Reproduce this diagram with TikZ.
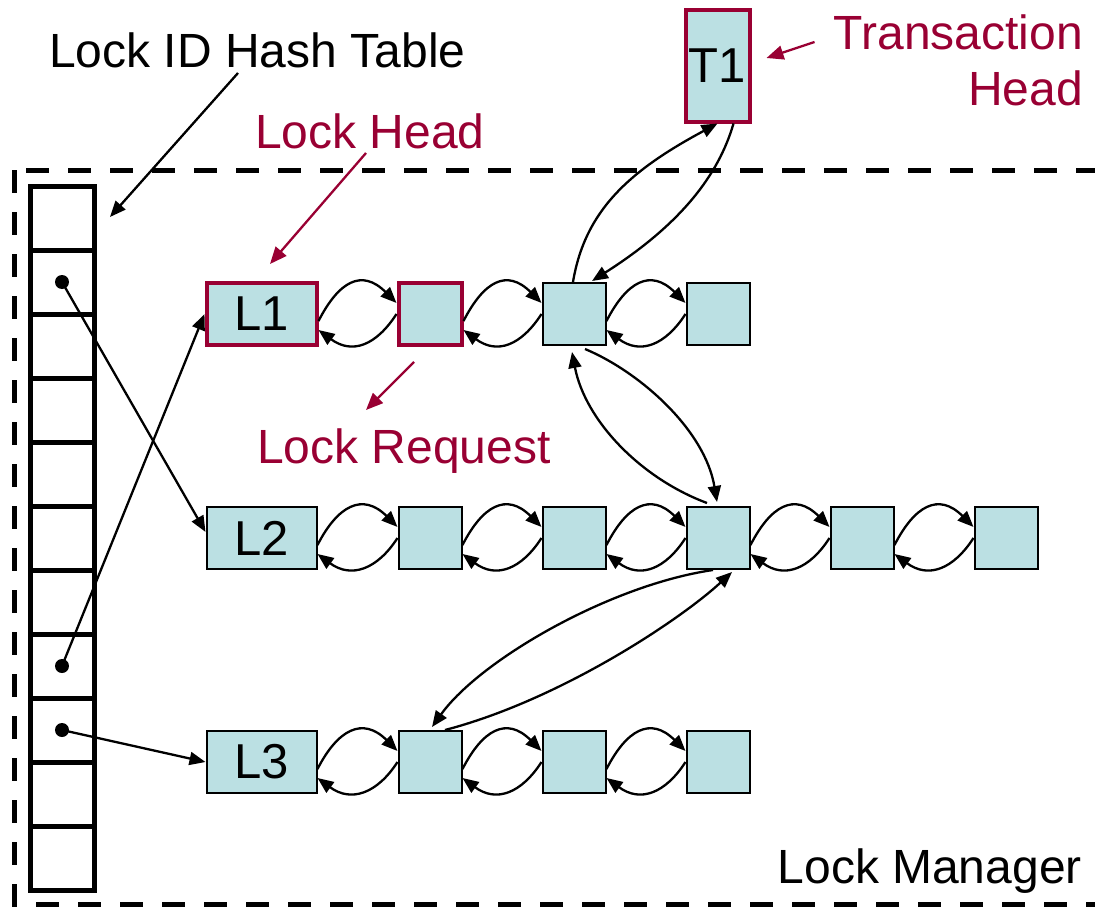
\documentclass[tikz,border=0pt]{standalone}
\usepackage{fontspec}
\setmainfont{Liberation Sans}
\usetikzlibrary{arrows.meta,calc}
\definecolor{cellfill}{RGB}{187,224,227}
\definecolor{maroon}{RGB}{153,0,51}
\tikzset{
  lockbox/.style={draw=black, line width=2pt, fill=cellfill, minimum width=110pt,
    minimum height=62pt, inner sep=0pt, font=\fontsize{49}{58}\selectfont},
  reqbox/.style={draw=black, line width=2pt, fill=cellfill, minimum width=63pt,
    minimum height=62pt, inner sep=0pt},
  hilite/.style={draw=maroon, line width=4pt},
  cell/.style={draw=black, line width=5pt, minimum width=64pt, minimum height=64pt,
    inner sep=0pt, outer sep=0pt},
  txt/.style={font=\fontsize{48}{55}\selectfont, inner sep=0pt},
  link/.style={line width=2.3pt, -{Triangle[length=16pt,width=13pt]}},
  note/.style={line width=2.3pt, draw=maroon, -{Triangle[length=17pt,width=14pt]}},
  mgrframe/.style={line width=5pt, dash pattern=on 23pt off 19pt},
}
% forward and backward pointers between two neighbouring queue entries
\newcommand\chainpair[2]{%
  \draw[link] ($(#1.east)+(0,7)$) .. controls +(20,-39) and +(-35,-35) .. ($(#2.west)+(0,-11)$);
  \draw[link] (#2.west) .. controls +(-20,31) and +(34,25) .. ($(#1.east)+(0,16)$);
}
\begin{document}
\begin{tikzpicture}[x=1pt,y=-1pt]
\useasboundingbox (0,0) rectangle (1095,907);

% lock manager boundary
\draw[mgrframe] (14,170) -- (14,904) -- (1110,904);
\draw[mgrframe] (26,170) -- (1110,170);

% hash table
\foreach \i in {1,...,11}
  \node[cell] (h\i) at (62,{218+64*(\i-1)}) {};
\fill (h2.center) circle (7pt);
\fill (h8.center) circle (7pt);
\fill (h9.center) circle (7pt);

% transaction
\node[lockbox,hilite,minimum width=64pt,minimum height=111pt] (T1) at (717.5,66) {T1};

% lock L1 queue
\node[lockbox,hilite] (L1) at (261.5,314) {L1};
\node[reqbox,hilite] (a1) at (430,314) {};
\node[reqbox] (a2) at (574,314) {};
\node[reqbox] (a3) at (718,314) {};

% lock L2 queue
\node[lockbox] (L2) at (261.5,538) {L2};
\node[reqbox] (b1) at (430,538) {};
\node[reqbox] (b2) at (574,538) {};
\node[reqbox] (b3) at (718,538) {};
\node[reqbox] (b4) at (862,538) {};
\node[reqbox] (b5) at (1006,538) {};

% lock L3 queue
\node[lockbox] (L3) at (261.5,762) {L3};
\node[reqbox] (c1) at (430,762) {};
\node[reqbox] (c2) at (574,762) {};
\node[reqbox] (c3) at (718,762) {};

% labels
\node[txt,anchor=base west] (hashlbl) at (49,68) {Lock ID Hash Table};
\node[txt,anchor=base west,text=maroon] (headlbl) at (255,148) {Lock Head};
\node[txt,anchor=base west,text=maroon] (reqlbl) at (257,463) {Lock Request};
\node[txt,anchor=base east,text=maroon] (trans1) at (1083,50) {Transaction};
\node[txt,anchor=base east,text=maroon] (trans2) at (1083,105) {Head};
\node[txt,anchor=base east] (mgrlbl) at (1082,883) {Lock Manager};

% queue pointers
\chainpair{L1}{a1}
\chainpair{a1}{a2}
\chainpair{a2}{a3}
\chainpair{L2}{b1}
\chainpair{b1}{b2}
\chainpair{b2}{b3}
\chainpair{b3}{b4}
\chainpair{b4}{b5}
\chainpair{L3}{c1}
\chainpair{c1}{c2}
\chainpair{c2}{c3}

% hash buckets to lock heads
\draw[link] (h2.center) -- ($(L2.west)+(0,-6)$);
\draw[link] (h8.center) -- (L1.west);
\draw[link] (h9.center) -- (L3.west);

% transaction list of requests
\draw[link] ($(a2.north)+(-1,0)$) .. controls +(12,-72) and +(-87.5,47) .. (T1.south);
\draw[link] ($(T1.south)+(16,0)$) .. controls +(-15,52) and +(88,-56) .. ($(a2.north)+(18,-1)$);
\draw[link] ($(a2.south)+(11,3)$) .. controls +(55,23) and +(-12,-72) .. ($(b3.north)+(-1,-4)$);
\draw[link] ($(b3.north)+(-11,-3)$) .. controls +(-67,-25) and +(13,68) .. ($(a2.south)+(-2,6)$);
\draw[link] ($(b3.south)+(-5,0)$) .. controls +(-103,15) and +(48,-67) .. ($(c1.north)+(2,-3)$);
\draw[link] ($(c1.north)+(15,0)$) .. controls +(115,-30) and +(-52,48) .. ($(b3.south)+(14,2)$);

% annotation arrows
\draw[link] ($(hashlbl.base west)+(189,5)$) -- ($(h1.east)+(16,-1)$);
\draw[note] ($(headlbl.base west)+(111,5)$) -- ($(L1.north)+(8.5,-17)$);
\draw[note] ($(a1.south)+(-16,15)$) -- ($(reqlbl.base west)+(109,-53)$);
\draw[note] ($(T1.east)+(63,-24)$) -- ($(T1.east)+(15,-8)$);
\end{tikzpicture}
\end{document}
